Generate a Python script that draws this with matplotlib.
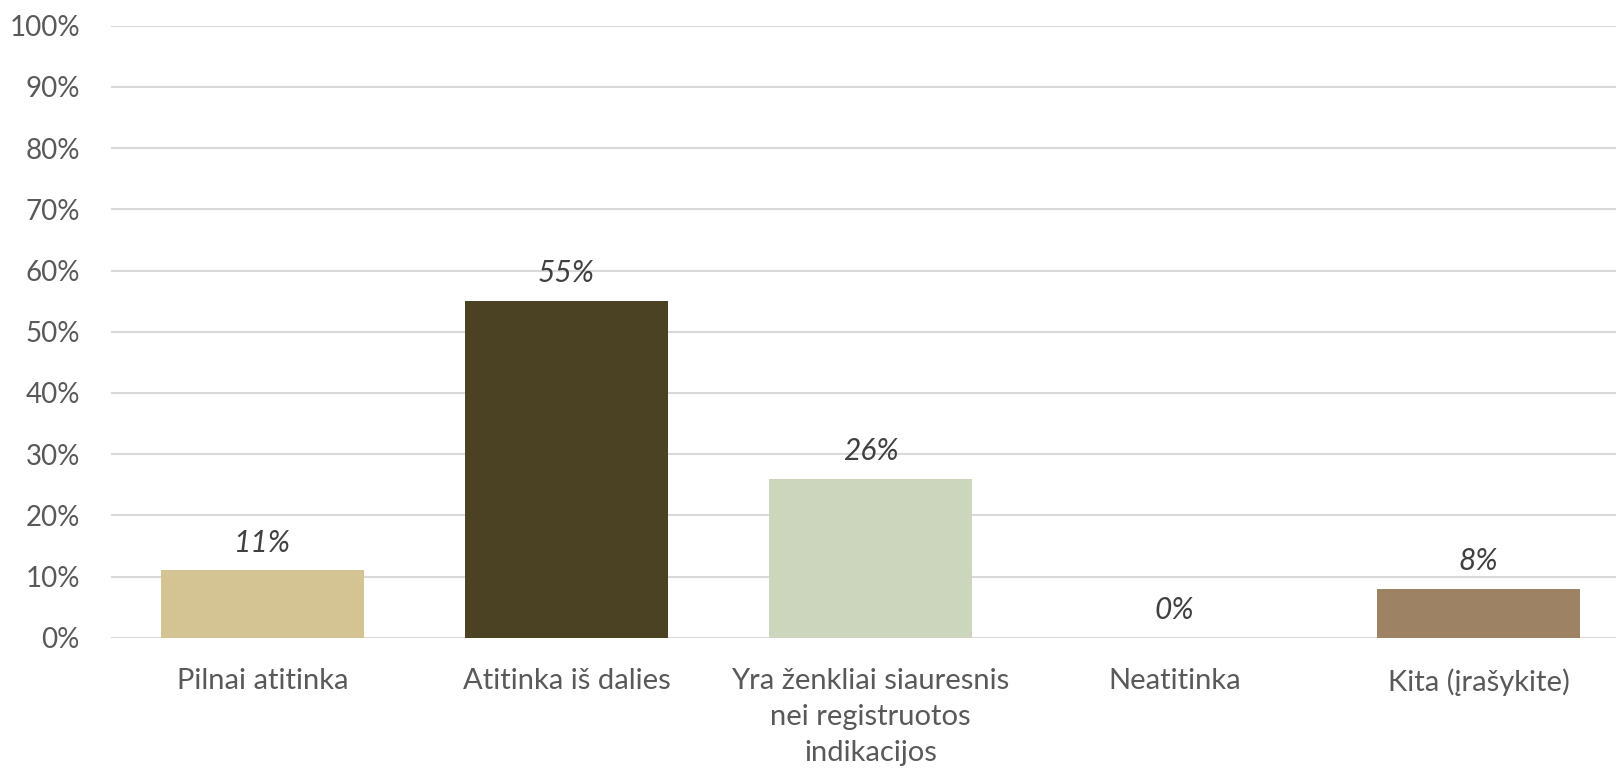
import numpy as np
import matplotlib.pyplot as plt
from matplotlib.ticker import PercentFormatter

plt.rcParams['font.family'] = ['Lato', 'DejaVu Sans']

categories = ['Pilnai atitinka', 'Atitinka iš dalies',
              'Yra ženkliai siauresnis\nnei registruotos\nindikacijos',
              'Neatitinka', 'Kita (įrašykite)']
values = [0.11, 0.55, 0.26, 0.0, 0.08]
colors = ['#D4C494', '#4B4123', '#CCD6BC', '#D9D9D9', '#9D8264']

fig = plt.figure(figsize=(16.16, 7.71), dpi=100)
ax = fig.add_axes([110.5 / 1616, 1 - 637.7 / 771, 1520 / 1616, 612 / 771])

x = np.arange(len(categories))
bars = ax.bar(x, values, width=0.668, color=colors, zorder=2)

for xi, v in zip(x, values):
    ax.annotate(f'{v * 100:.0f}%', (xi, v), xytext=(0, 20), textcoords='offset points',
                ha='center', va='center', fontsize=21.5, style='italic', color='#404040')

ax.set_xlim(-0.5, len(categories) - 0.5)
ax.set_ylim(0, 1)
ax.set_yticks(np.arange(0, 1.01, 0.1))
ax.yaxis.set_major_formatter(PercentFormatter(1.0, decimals=0))
ax.set_xticks(x)
ax.set_xticklabels(categories, linespacing=1.48)

ax.grid(axis='y', color='#D9D9D9', linewidth=1.5, zorder=0)
ax.tick_params(axis='y', length=0, labelsize=20, labelcolor='#595959', pad=22)
ax.tick_params(axis='x', length=0, labelsize=21, labelcolor='#595959', pad=22)
for s in ax.spines.values():
    s.set_visible(False)

fig.savefig('out.png', dpi=100)
